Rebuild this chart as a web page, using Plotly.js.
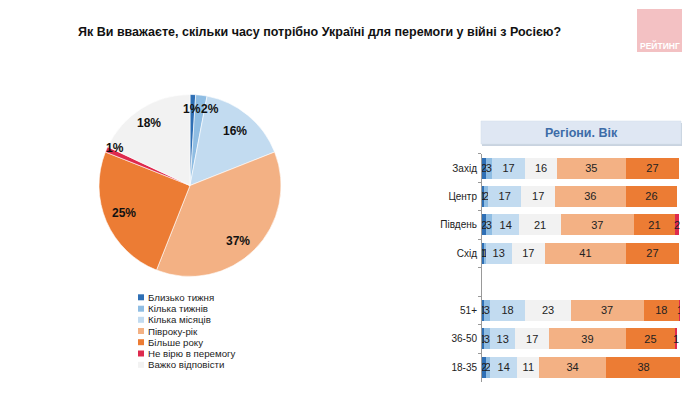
<!DOCTYPE html>
<html><head><meta charset="utf-8">
<script src="https://cdn.plot.ly/plotly-3.0.1.min.js"></script>
<style>html,body{margin:0;padding:0;background:#fff;}#chart{width:690px;height:393px;}</style>
</head><body><div id="chart"></div>
<script>
var answers = ['Близько тижня','Кілька тижнів','Кілька місяців','Півроку-рік','Більше року','Не вірю в перемогу','Важко відповісти'];
var pieValues = [1,2,16,37,25,1,18];
var colors = ['#2e6fb5','#8fbde3','#c2dbf0','#f3b184','#ec7c34','#de2a4e','#f2f2f2'];

var groups = ['Захід','Центр','Південь','Схід',' ','51+','36-50','18-35'];
// bar stacking order in the reference
var barOrder = ['Близько тижня','Кілька тижнів','Кілька місяців','Важко відповісти','Півроку-рік','Більше року','Не вірю в перемогу'];
var barData = {
  'Близько тижня':      [2,1,2,1,null,1,1,2],
  'Кілька тижнів':      [3,2,3,1,null,3,3,2],
  'Кілька місяців':     [17,17,14,13,null,18,13,14],
  'Важко відповісти':   [16,17,21,17,null,23,17,11],
  'Півроку-рік':        [35,36,37,41,null,37,39,34],
  'Більше року':        [27,26,21,27,null,18,25,38],
  'Не вірю в перемогу': [0,0,2,0,null,1,1,0]
};

var W = 690, H = 393;
function px(x){return x/W;}
function py(y){return 1 - y/H;}

// pie geometry (pixels)
var pieCx = 190, pieCy = 185.5, pieR = 91;
var labelR = [0.84, 0.87, 0.78, 0.81, 0.79, 0.92, 0.82];   // radial placement of each label
var labelNudge = [0, 7.5, 0, 4, 1, 3, -1];                  // angular nudge (deg)

var traces = [];
traces.push({
  type:'pie', values:pieValues, labels:answers, sort:false, direction:'clockwise', rotation:0,
  marker:{colors:colors, line:{color:'#ffffff', width:0.6}},
  textinfo:'none',
  domain:{x:[px(pieCx-pieR),px(pieCx+pieR)], y:[py(pieCy+pieR),py(pieCy-pieR)]},
  showlegend:false, hoverinfo:'label+value'
});
barOrder.forEach(function(name){
  var vals = barData[name];
  traces.push({
    type:'bar', orientation:'h', name:name, y:groups, x:vals,
    xaxis:'x', yaxis:'y',
    marker:{color:colors[answers.indexOf(name)]},
    text:vals.map(function(v){return (v===null||v===0)?'':String(v);}),
    textposition:'inside', insidetextanchor:'middle', constraintext:'none',
    textfont:{family:'Liberation Sans, Arial, sans-serif', size:11, color:'#222'},
    showlegend:false, hoverinfo:'x+name'
  });
});

var annotations = [], shapes = [];
// pie labels placed on each slice's bisector
var total = pieValues.reduce(function(a,b){return a+b;},0), cum = 0;
pieValues.forEach(function(v,i){
  var mid = (cum + v/2)/total*360 + labelNudge[i];
  cum += v;
  var a = mid*Math.PI/180, r = pieR*labelR[i];
  annotations.push({xref:'paper', yref:'paper', x:px(pieCx + r*Math.sin(a)), y:py(pieCy - r*Math.cos(a)),
    xanchor:'center', yanchor:'middle',
    showarrow:false, text:'<b>'+v+'%</b>', font:{family:'Liberation Sans, Arial, sans-serif', size:12, color:'#111'}});
});

annotations.push({xref:'paper', yref:'paper', x:px(76), y:py(32), xanchor:'left', yanchor:'middle', showarrow:false,
  text:'<b>Як Ви вважаєте, скільки часу потрібно Україні для перемоги у війні з Росією?</b>',
  font:{family:'Liberation Sans, Arial, sans-serif', size:12.5, color:'#111'}});
// logo
shapes.push({type:'rect', xref:'paper', yref:'paper', x0:px(637), x1:px(682), y0:py(52), y1:py(9), fillcolor:'#f3c1c3', line:{width:0}});
annotations.push({xref:'paper', yref:'paper', x:px(659.5), y:py(45.5), xanchor:'center', yanchor:'middle', showarrow:false,
  text:'<b>РЕЙТИНГ</b>', font:{family:'Liberation Sans, Arial, sans-serif', size:8.5, color:'#ffffff'}});
// header box
shapes.push({type:'rect', xref:'paper', yref:'paper', x0:px(482), x1:px(682), y0:py(146), y1:py(123), fillcolor:'#c9d3e0', line:{width:0}});
shapes.push({type:'rect', xref:'paper', yref:'paper', x0:px(481), x1:px(681), y0:py(144), y1:py(121), fillcolor:'#dfe7f3', line:{color:'#d3ddeb', width:0.5}});
annotations.push({xref:'paper', yref:'paper', x:px(581), y:py(132.5), xanchor:'center', yanchor:'middle', showarrow:false,
  text:'<b>Регіони. Вік</b>', font:{family:'Liberation Sans, Arial, sans-serif', size:12.5, color:'#3d6ca8'}});
// legend
var legY = [297.3,308.7,319.8,331,342.2,353.5,364.8];
answers.forEach(function(a,i){
  shapes.push({type:'rect', xref:'paper', yref:'paper', x0:px(138), x1:px(144), y0:py(legY[i]+3), y1:py(legY[i]-3), fillcolor:colors[i], line:{width:0}});
  annotations.push({xref:'paper', yref:'paper', x:px(146), y:py(legY[i]), xanchor:'left', yanchor:'middle', showarrow:false,
    text:a, font:{family:'Liberation Sans, Arial, sans-serif', size:9.7, color:'#222'}});
});

var layout = {
  width:W, height:H, margin:{l:0,r:0,t:0,b:0}, paper_bgcolor:'#ffffff', plot_bgcolor:'rgba(0,0,0,0)',
  barmode:'stack', bargap:0.26, showlegend:false,
  uniformtext:{minsize:11, mode:'show'},
  xaxis:{domain:[px(482),px(680)], range:[0,100.5], visible:false, fixedrange:true},
  yaxis:{domain:[py(381.5),py(153.8)], type:'category', autorange:'reversed', showline:true, linecolor:'#999', linewidth:1,
    ticks:'outside', ticklen:3, tickcolor:'#999', tickson:'boundaries', showgrid:false, zeroline:false,
    tickfont:{family:'Liberation Sans, Arial, sans-serif', size:10, color:'#222'}, ticklabelstandoff:2},
  annotations:annotations, shapes:shapes
};
Plotly.newPlot('chart', traces, layout, {staticPlot:true, displayModeBar:false});
</script></body></html>
